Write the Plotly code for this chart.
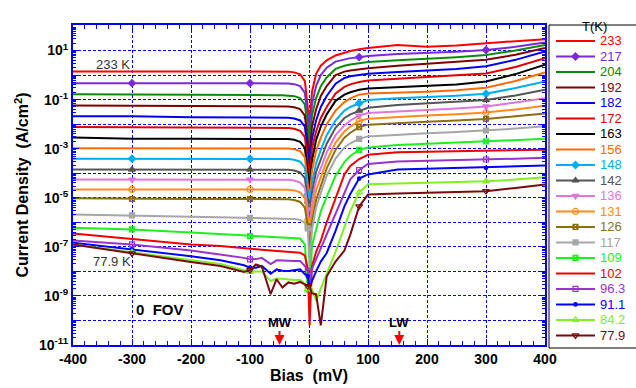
import plotly.graph_objects as go

# Bias points (mV) shared by every temperature curve
bias = [-400, -300, -200, -150, -110, -100, -90, -80, -65, -55, -45, -35, -25, -15, -7, -2,
        1, 5, 12, 20, 30, 45, 60, 70, 85, 100, 150, 200, 250, 300, 350, 400]

# Temperatures (K) as printed in the key
temps = ["233", "217", "204", "192", "182", "172", "163", "156", "148", "142",
         "136", "131", "126", "117", "109", "102", "96.3", "91.1", "84.2", "77.9"]

# log10 of the dark current density (A/cm^2) at each bias point
log_j_233 = [0.15, 0.15, 0.15, 0.15, 0.15, 0.15, 0.15, 0.15, 0.15, 0.15, 0.15, 0.14, 0.11, 0.03, -0.25, -1.3,
             -2.0, -0.7, 0.05, 0.38, 0.6, 0.8, 0.92, 0.98, 1.05, 1.1, 1.22, 1.15, 1.2, 1.3, 1.38, 1.46]
log_j_217 = [-0.33, -0.33, -0.33, -0.33, -0.33, -0.33, -0.33, -0.33, -0.33, -0.33, -0.33, -0.34, -0.37, -0.45, -0.73, -1.74,
             -2.45, -1.2, -0.45, 0.0, 0.3, 0.55, 0.65, 0.69, 0.73, 0.78, 0.86, 0.9, 0.95, 1.02, 1.15, 1.33]
log_j_204 = [-0.78, -0.8, -0.82, -0.82, -0.82, -0.82, -0.82, -0.82, -0.82, -0.82, -0.82, -0.83, -0.86, -0.94, -1.2, -2.2,
             -2.9, -1.65, -0.95, -0.45, -0.1, 0.25, 0.38, 0.43, 0.49, 0.53, 0.6, 0.66, 0.73, 0.82, 1.0, 1.23]
log_j_192 = [-1.24, -1.26, -1.27, -1.27, -1.27, -1.27, -1.27, -1.27, -1.27, -1.27, -1.27, -1.28, -1.31, -1.39, -1.65, -2.65,
             -3.35, -2.1, -1.4, -0.85, -0.45, 0.0, 0.14, 0.19, 0.24, 0.28, 0.38, 0.45, 0.52, 0.62, 0.83, 1.1]
log_j_182 = [-1.68, -1.68, -1.72, -1.73, -1.73, -1.73, -1.73, -1.73, -1.73, -1.73, -1.73, -1.74, -1.77, -1.85, -2.1, -3.1,
             -3.8, -2.6, -1.85, -1.3, -0.85, -0.35, -0.12, -0.05, 0.01, 0.05, 0.12, 0.18, 0.25, 0.36, 0.62, 0.96]
log_j_172 = [-2.12, -2.14, -2.15, -2.15, -2.15, -2.15, -2.15, -2.15, -2.15, -2.15, -2.15, -2.16, -2.19, -2.27, -2.53, -3.5,
             -4.25, -3.0, -2.3, -1.75, -1.3, -0.75, -0.48, -0.38, -0.28, -0.22, -0.15, -0.1, -0.04, 0.06, 0.33, 0.69]
log_j_163 = [-2.54, -2.6, -2.6, -2.6, -2.6, -2.6, -2.6, -2.6, -2.6, -2.6, -2.6, -2.61, -2.64, -2.72, -2.97, -3.95,
             -4.7, -3.5, -2.65, -2.1, -1.6, -1.05, -0.8, -0.7, -0.6, -0.55, -0.5, -0.45, -0.38, -0.26, 0.04, 0.42]
log_j_156 = [-2.98, -2.98, -2.98, -2.98, -2.98, -2.98, -2.98, -2.98, -2.98, -2.98, -2.98, -2.99, -3.02, -3.1, -3.35, -4.4,
             -5.1, -3.9, -3.1, -2.55, -2.0, -1.45, -1.1, -0.95, -0.8, -0.75, -0.72, -0.68, -0.62, -0.52, -0.24, 0.11]
log_j_148 = [-3.41, -3.41, -3.41, -3.41, -3.41, -3.41, -3.41, -3.41, -3.41, -3.41, -3.41, -3.42, -3.45, -3.53, -3.77, -4.87,
             -5.5, -4.4, -3.6, -3.05, -2.45, -1.85, -1.45, -1.3, -1.15, -1.02, -0.95, -0.9, -0.84, -0.76, -0.53, -0.26]
log_j_142 = [-3.85, -3.85, -3.85, -3.85, -3.85, -3.85, -3.85, -3.85, -3.85, -3.85, -3.85, -3.86, -3.89, -3.97, -4.2, -5.15,
             -6.0, -4.8, -3.95, -3.4, -2.8, -2.15, -1.75, -1.6, -1.45, -1.33, -1.22, -1.16, -1.1, -1.02, -0.83, -0.6]
log_j_136 = [-4.26, -4.26, -4.26, -4.26, -4.26, -4.26, -4.26, -4.26, -4.26, -4.26, -4.26, -4.27, -4.3, -4.38, -4.6, -5.48,
             -6.4, -5.2, -4.3, -3.75, -3.15, -2.45, -2.05, -1.85, -1.65, -1.55, -1.47, -1.42, -1.36, -1.28, -1.12, -0.94]
log_j_131 = [-4.66, -4.66, -4.66, -4.66, -4.66, -4.66, -4.66, -4.66, -4.66, -4.66, -4.66, -4.67, -4.7, -4.78, -5.0, -5.92,
             -6.8, -5.6, -4.7, -4.15, -3.5, -2.75, -2.3, -2.1, -1.87, -1.78, -1.7, -1.65, -1.6, -1.53, -1.4, -1.25]
log_j_126 = [-5.02, -5.05, -5.05, -5.05, -5.05, -5.05, -5.05, -5.05, -5.05, -5.05, -5.05, -5.06, -5.09, -5.17, -5.4, -6.17,
             -7.1, -6.0, -5.1, -4.5, -3.8, -3.05, -2.55, -2.35, -2.12, -2.02, -1.95, -1.9, -1.85, -1.79, -1.68, -1.57]
log_j_117 = [-5.68, -5.72, -5.75, -5.77, -5.8, -5.82, -5.82, -5.83, -5.84, -5.84, -5.85, -5.85, -5.87, -5.9, -6.03, -6.25,
             -7.9, -6.3, -5.4, -4.8, -4.1, -3.4, -2.95, -2.78, -2.6, -2.5, -2.42, -2.37, -2.32, -2.26, -2.18, -2.09]
log_j_109 = [-6.22, -6.29, -6.42, -6.48, -6.54, -6.56, -6.57, -6.58, -6.6, -6.61, -6.62, -6.63, -6.64, -6.66, -6.9, -8.73,
             -9.0, -6.97, -6.3, -5.55, -4.95, -4.1, -3.55, -3.3, -3.05, -2.95, -2.85, -2.8, -2.75, -2.7, -2.65, -2.6]
log_j_102 = [-6.46, -6.67, -6.9, -6.97, -7.04, -7.07, -7.1, -7.12, -7.15, -7.17, -7.18, -7.2, -7.22, -7.24, -7.35, -7.9,
             -10.2, -7.8, -7.2, -6.75, -6.0, -5.0, -4.05, -3.7, -3.42, -3.25, -3.15, -3.12, -3.1, -3.08, -3.06, -3.04]
log_j_96 = [-6.74, -6.9, -7.15, -7.3, -7.45, -7.51, -7.5, -7.45, -7.7, -7.55, -7.57, -7.57, -7.58, -7.58, -7.78, -8.0,
            -8.5, -7.9, -7.5, -7.1, -6.5, -5.61, -4.8, -4.25, -3.87, -3.62, -3.52, -3.5, -3.47, -3.44, -3.41, -3.37]
log_j_91 = [-6.83, -7.1, -7.38, -7.55, -7.75, -7.85, -7.85, -7.78, -8.1, -7.92, -7.97, -7.98, -7.95, -7.92, -8.12, -8.2,
            -8.7, -8.4, -8.0, -7.6, -7.25, -6.35, -5.35, -4.85, -4.22, -4.05, -3.85, -3.82, -3.8, -3.78, -3.74, -3.69]
log_j_84 = [-6.9, -7.22, -7.55, -7.7, -7.95, -8.02, -8.0, -8.0, -8.39, -8.29, -8.3, -8.33, -8.35, -8.35, -8.5, -8.73,
            -8.6, -8.7, -9.2, -8.7, -8.1, -7.2, -6.2, -5.55, -4.78, -4.45, -4.42, -4.4, -4.37, -4.33, -4.26, -4.16]
log_j_78 = [-6.9, -7.27, -7.62, -7.78, -8.02, -7.95, -7.72, -7.8, -8.93, -8.32, -8.66, -8.45, -8.5, -8.43, -8.52, -8.6,
            -8.6, -8.9, -8.93, -10.2, -8.2, -7.6, -7.15, -6.5, -5.35, -4.87, -4.83, -4.8, -4.77, -4.73, -4.6, -4.46]

# Bias values carrying a symbol on the marked curves
marker_bias = [-300, -100, -2, 85, 300]

# Axis ticks: x every 100 mV; y gridded on every decade, labelled on odd ones
x_ticks = [-400, -300, -200, -100, 0, 100, 200, 300, 400]
y_exponents = list(range(-11, 3))

series = [log_j_233, log_j_217, log_j_204, log_j_192, log_j_182, log_j_172, log_j_163,
          log_j_156, log_j_148, log_j_142, log_j_136, log_j_131, log_j_126, log_j_117,
          log_j_109, log_j_102, log_j_96, log_j_91, log_j_84, log_j_78]

colors = ["#FF0000", "#7A2BD9", "#0A8A0A", "#800000", "#0000F0", "#E00000", "#000000",
          "#FF6A00", "#00AEEF", "#555555", "#DD77DD", "#FF8C1A", "#8B6F14", "#A6A6A6",
          "#1EF01E", "#F00000", "#9933CC", "#0000FF", "#80F020", "#7A0A0A"]
symbols = [None, "diamond", None, None, None, None, None, None, "diamond", "triangle-up",
           "triangle-down", "circle-open-dot", "square-x-open", "square", "square-x-open",
           None, "square-open", "circle", "triangle-up-open", "triangle-down-open"]
sizes = [0, 5.5, 0, 0, 0, 0, 0, 0, 5.5, 6, 6, 6, 5, 5, 5, 0, 5, 3.5, 6, 6]

FONT = "Arial, Liberation Sans, sans-serif"
BLUE = "#0000FF"

# Plot area spans px 73..545 horizontally; the key box sits to its right
W, H = 636, 388
ML, MR, MT, MB = 73, 0, 25, 40
pw = W - ML - MR
ph = H - MT - MB
x_dom_end = (545 - ML) / pw
y_dom_start = (348 - 345) / ph
key_x0 = (549 - ML) / pw

fig = go.Figure()
marker_idx = [bias.index(b) for b in marker_bias]

for t, lj, c, s, sz in zip(temps, series, colors, symbols, sizes):
    j = [10 ** v for v in lj]
    kw = dict(x=bias, y=j, name=t + " K", showlegend=False, xaxis="x", yaxis="y",
              line=dict(color=c, width=2), hoverinfo="x+y+name")
    if s:
        kw.update(mode="lines+markers",
                  marker=dict(symbol=s, size=sz, color=c, line=dict(color=c, width=1.2)),
                  selectedpoints=marker_idx,
                  unselected=dict(marker=dict(opacity=0)))
    else:
        kw["mode"] = "lines"
    fig.add_trace(go.Scatter(**kw))

# Key: one sample line per temperature drawn on its own small subplot
for i, (t, c, s, sz) in enumerate(zip(temps, colors, symbols, sizes)):
    kw = dict(x=[7, 26.5, 46], y=[i, i, i], xaxis="x2", yaxis="y2", showlegend=False,
              hoverinfo="skip", line=dict(color=c, width=2))
    if s:
        kw.update(mode="lines+markers",
                  marker=dict(symbol=s, size=sz, color=c, line=dict(color=c, width=1.2)),
                  selectedpoints=[1], unselected=dict(marker=dict(opacity=0)))
    else:
        kw["mode"] = "lines"
    fig.add_trace(go.Scatter(**kw))
    fig.add_annotation(x=49, y=i, xref="x2", yref="y2", text=t, showarrow=False,
                       xanchor="left", yanchor="middle",
                       font=dict(family=FONT, size=13, color=c))

y_tickvals = [10.0 ** e for e in y_exponents]
y_ticktext = [("10<sup>%d</sup>" % e) if e % 2 else "" for e in y_exponents]
y_minor = [k * 10.0 ** e for e in y_exponents[:-1] for k in range(2, 10)]
grid_style = dict(showgrid=True, gridcolor=BLUE, gridwidth=1, griddash="3px,2px", zeroline=False)

fig.update_layout(
    width=W, height=H, autosize=False,
    margin=dict(l=ML, r=MR, t=MT, b=MB, pad=0, autoexpand=False),
    paper_bgcolor="white", plot_bgcolor="white",
    font=dict(family=FONT, color="black"),
    xaxis=dict(
        domain=[0, x_dom_end], anchor="y", range=[-400, 400], automargin=False,
        tickmode="array", tickvals=x_ticks, ticktext=[str(v) for v in x_ticks],
        tickfont=dict(family=FONT, size=14, weight="bold"),
        ticks="inside", ticklen=6, tickwidth=1, tickcolor=BLUE,
        minor=dict(dtick=20, ticks="inside", ticklen=4, tickcolor=BLUE, showgrid=False),
        showline=True, linecolor=BLUE, linewidth=2, mirror="ticks",
        title=dict(text="Bias\u00a0 (mV)", font=dict(family=FONT, size=16, weight="bold"),
                   standoff=4),
        **grid_style,
    ),
    yaxis=dict(
        domain=[y_dom_start, 1], anchor="x", type="log", range=[-11, 2.04], automargin=False,
        tickmode="array", tickvals=y_tickvals, ticktext=y_ticktext,
        tickfont=dict(family=FONT, size=14, weight="bold"),
        ticks="inside", ticklen=6, tickwidth=1, tickcolor=BLUE,
        minor=dict(tickvals=y_minor, ticks="inside", ticklen=3, tickcolor=BLUE, showgrid=False),
        showline=True, linecolor=BLUE, linewidth=2, mirror="ticks",
        title=dict(text="Current Density\u00a0 (A/cm<sup>2</sup>)",
                   font=dict(family=FONT, size=16, weight="bold"), standoff=6),
        **grid_style,
    ),
    xaxis2=dict(domain=[key_x0, 1], anchor="y2", range=[0, W - 549], visible=False,
                fixedrange=True, automargin=False),
    yaxis2=dict(domain=[0, 1], anchor="x2", range=[19.81, -1.03], visible=False,
                fixedrange=True, automargin=False),
)

# Key frame and heading
fig.add_shape(type="rect", xref="paper", yref="paper", x0=key_x0, x1=1.02, y0=0, y1=1,
              line=dict(color="black", width=1), fillcolor="rgba(0,0,0,0)", layer="above")
fig.add_annotation(x=(609 - ML) / pw, y=1 + (25 - 17) / ph, xref="paper", yref="paper",
                   text="T(K)", showarrow=False, font=dict(family=FONT, size=13, color="black"))

# In-plot labels
fig.add_annotation(x=-332, y=0.42, text="233 K", showarrow=False,
                   font=dict(family=FONT, size=13, color="#333333"))
fig.add_annotation(x=-334, y=-7.58, text="77.9 K", showarrow=False,
                   font=dict(family=FONT, size=13, color="#333333"))
fig.add_annotation(x=-252, y=-9.54, text="0\u00a0 FOV", showarrow=False,
                   font=dict(family=FONT, size=15, color="black", weight="bold"))
for label, xb in (("MW", -50), ("LW", 153)):
    fig.add_annotation(x=xb, y=-11, ax=0, ay=-23, text=label, showarrow=True,
                       arrowhead=2, arrowsize=1, arrowwidth=2, arrowcolor="#FF0000",
                       font=dict(family=FONT, size=13, color="black", weight="bold"))

fig.write_html("out.html", config={"responsive": False})
